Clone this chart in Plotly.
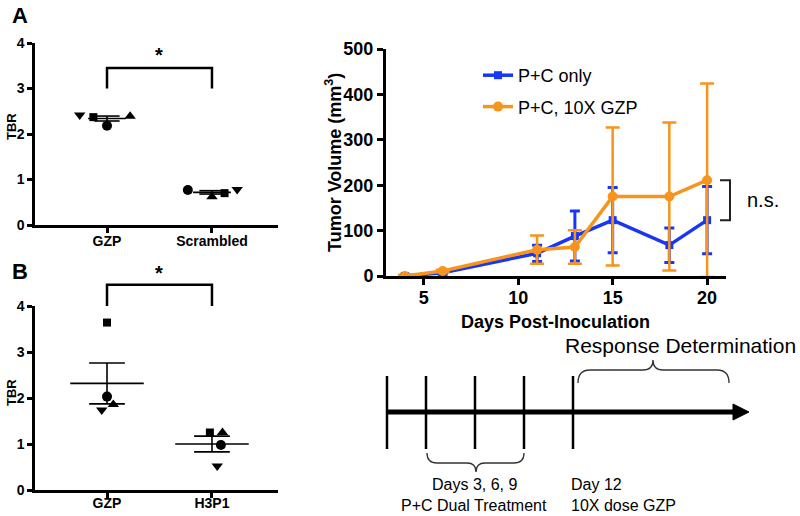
import numpy as np
import plotly.graph_objects as go

FONT = "Arial, 'Liberation Sans', Helvetica, sans-serif"
W, H = 800, 516

# ---------------- Panel A data ----------------
a_groups = ["GZP", "Scrambled"]
a_circle = [2.18, 0.77]
a_square = [2.37, 0.70]
a_tri_up = [2.39, 0.62]
a_tri_down = [2.42, 0.78]
a_dx_circle = [0.0, -0.23]
a_dx_square = [-0.13, 0.12]
a_dx_tri_up = [0.22, 0.0]
a_dx_tri_down = [-0.26, 0.24]

# ---------------- Panel B data ----------------
b_groups = ["GZP", "H3P1"]
b_circle = [2.03, 0.98]
b_square = [3.64, 1.25]
b_tri_up = [1.86, 1.25]
b_tri_down = [1.74, 0.52]
b_dx_circle = [0.0, 0.085]
b_dx_square = [0.0, -0.02]
b_dx_tri_up = [0.06, 0.10]
b_dx_tri_down = [-0.05, 0.05]

tbr_ticks = [0, 1, 2, 3, 4]

# ---------------- Panel C data ----------------
days = [4, 6, 11, 13, 15, 18, 20]
pc_only = [0, 7, 50, 88, 123, 68, 123]
pc_only_sem = [3, 3, 18, 55, 72, 38, 74]
pc_gzp = [0, 11, 58, 64, 175, 175, 211]
pc_gzp_sem = [2, 3, 31, 37, 152, 163, 213]
day_ticks = [5, 10, 15, 20]
vol_ticks = [0, 100, 200, 300, 400, 500]

BLUE = "#1736f5"
ORANGE = "#f7941d"

# ---------------- layout geometry (pixels in the final picture) ----------------
A_X, A_Y = (35, 278), (43, 225)
B_X, B_Y = (35, 278), (306, 490)
C_X, C_Y = (386, 726), (49, 276)
CAT_RANGE = [-0.686, 1.629]
TBR_RANGE = [0, 4]
DAY_RANGE = [3, 21]
VOL_RANGE = [0, 500]


def px(x):
    return x / W


def py(y):
    return 1 - y / H


def xdom(p):
    return [px(p[0]), px(p[1])]


def ydom(p):
    return [py(p[1]), py(p[0])]


def data_to_pix_x(v, rng, dom):
    return dom[0] + (v - rng[0]) / (rng[1] - rng[0]) * (dom[1] - dom[0])


def data_to_pix_y(v, rng, dom):
    return dom[1] - (v - rng[0]) / (rng[1] - rng[0]) * (dom[1] - dom[0])


fig = go.Figure()

sym_specs = [("circle", 10), ("square", 8), ("triangle-up", 10), ("triangle-down", 10)]


def add_dot_panel(vals, dxs, xa, ya, mean_hw, sem_hw):
    for (sym, size), v, dx in zip(sym_specs, vals, dxs):
        fig.add_trace(go.Scatter(
            x=[i + d for i, d in enumerate(dx)], y=v, mode="markers",
            marker=dict(symbol=sym, size=size, color="black"),
            xaxis=xa, yaxis=ya, showlegend=False, cliponaxis=False))
    xs, ys = [], []
    ngroups = len(vals[0])
    for g in range(ngroups):
        gv = [v[g] for v in vals]
        m = float(np.mean(gv))
        s = float(np.std(gv, ddof=1) / np.sqrt(len(gv)))
        xs += [g - mean_hw, g + mean_hw, None,
               g - sem_hw, g + sem_hw, None,
               g - sem_hw, g + sem_hw, None,
               g, g, None]
        ys += [m, m, None, m + s, m + s, None, m - s, m - s, None, m - s, m + s, None]
    fig.add_trace(go.Scatter(x=xs, y=ys, mode="lines",
                             line=dict(color="black", width=1.6),
                             xaxis=xa, yaxis=ya, showlegend=False))


add_dot_panel([a_circle, a_square, a_tri_up, a_tri_down],
              [a_dx_circle, a_dx_square, a_dx_tri_up, a_dx_tri_down],
              "x", "y", 0.18, 0.12)
add_dot_panel([b_circle, b_square, b_tri_up, b_tri_down],
              [b_dx_circle, b_dx_square, b_dx_tri_up, b_dx_tri_down],
              "x3", "y3", 0.35, 0.17)

# Panel C
fig.add_trace(go.Scatter(
    x=days, y=pc_only, mode="lines+markers", name="P+C only", legendgroup="g1",
    line=dict(color=BLUE, width=3.5),
    marker=dict(symbol="square", size=8, color=BLUE),
    error_y=dict(type="data", array=pc_only_sem, color=BLUE, thickness=3, width=5),
    xaxis="x5", yaxis="y5"))
fig.add_trace(go.Scatter(
    x=days, y=pc_gzp, mode="lines+markers", name="P+C, 10X GZP", legendgroup="g2",
    line=dict(color=ORANGE, width=3.5),
    marker=dict(symbol="circle", size=10, color=ORANGE),
    error_y=dict(type="data", array=pc_gzp_sem, color=ORANGE, thickness=2.5, width=7),
    xaxis="x5", yaxis="y5"))

axis_common = dict(showline=True, linecolor="black", linewidth=2.5, ticks="outside",
                   ticklen=5, tickwidth=2.5, tickcolor="black", showgrid=False,
                   zeroline=False, mirror=False, automargin=False)
axis_big = {**axis_common, "linewidth": 3, "tickwidth": 3, "ticklen": 6}
tickfont_small = dict(family=FONT, size=14, color="black", weight="bold")
tickfont_big = dict(family=FONT, size=18, color="black", weight="bold")

fig.update_layout(
    xaxis=dict(domain=xdom(A_X), range=CAT_RANGE, tickvals=[0, 1], ticktext=a_groups,
               anchor="y", tickfont=tickfont_small, ticklabelstandoff=-4, **axis_common),
    yaxis=dict(domain=ydom(A_Y), range=TBR_RANGE, tickvals=tbr_ticks, anchor="x",
               tickfont=tickfont_small, **axis_common),
    xaxis3=dict(domain=xdom(B_X), range=CAT_RANGE, tickvals=[0, 1], ticktext=b_groups,
                anchor="y3", tickfont=tickfont_small, ticklabelstandoff=-7, **axis_common),
    yaxis3=dict(domain=ydom(B_Y), range=TBR_RANGE, tickvals=tbr_ticks, anchor="x3",
                tickfont=tickfont_small, **axis_common),
    xaxis5=dict(domain=xdom(C_X), range=DAY_RANGE, tickvals=day_ticks, anchor="y5",
                tickfont=tickfont_big, ticklabelstandoff=-3, **axis_big),
    yaxis5=dict(domain=ydom(C_Y), range=VOL_RANGE, tickvals=vol_ticks, anchor="x5",
                tickfont=tickfont_big, **axis_big),
    width=W, height=H, margin=dict(l=0, r=0, t=0, b=0, autoexpand=False),
    paper_bgcolor="white", plot_bgcolor="white",
    font=dict(family=FONT, color="black"),
    legend=dict(x=px(478), y=py(57), xanchor="left", yanchor="top",
                font=dict(family=FONT, size=18, color="black"),
                bgcolor="rgba(0,0,0,0)", tracegroupgap=5),
)

shapes = []
annotations = []


def ann(x, y, text, size, bold=False, angle=0, xanchor="center", color="black"):
    annotations.append(dict(
        x=px(x), y=py(y), xref="paper", yref="paper", text=text, showarrow=False,
        xanchor=xanchor, yanchor="middle", textangle=angle,
        font=dict(family=FONT, size=size, color=color, weight="bold" if bold else "normal")))


def path_px(cmds, width=2.5, color="black"):
    shapes.append(dict(type="path", xref="paper", yref="paper", path=cmds,
                       line=dict(color=color, width=width)))


def P(x, y):
    return f"{px(x):.5f},{py(y):.5f}"


# significance brackets (computed from the category/TBR scales)
for (xd, yd, top_v, leg_v, star_y) in [(A_X, A_Y, 3.45, 3.0, 55), (B_X, B_Y, 4.46, 4.0, 273)]:
    x0 = data_to_pix_x(0, CAT_RANGE, xd)
    x1 = data_to_pix_x(1, CAT_RANGE, xd)
    yt = data_to_pix_y(top_v, TBR_RANGE, yd)
    yl = data_to_pix_y(leg_v, TBR_RANGE, yd)
    path_px(f"M{P(x0, yl)} L{P(x0, yt)} L{P(x1, yt)} L{P(x1, yl)}", width=2.5)
    ann((x0 + x1) / 2, star_y, "*", 20, bold=True)

# panel letters and TBR titles
ann(20, 15, "A", 22, bold=True)
ann(20, 271, "B", 22, bold=True)
ann(11, 127, "TBR", 13, bold=True, angle=-90)
ann(11, 393, "TBR", 13, bold=True, angle=-90)

# panel C titles
ann(333, 163, "Tumor Volume (mm<sup>3</sup>)", 18, bold=True, angle=-90)
ann(555, 322, "Days Post-Inoculation", 18, bold=True)

# n.s. bracket between last points
ytop = data_to_pix_y(pc_gzp[-1], VOL_RANGE, C_Y)
ybot = data_to_pix_y(pc_only[-1], VOL_RANGE, C_Y)
path_px(f"M{P(720, ytop)} L{P(730, ytop)} L{P(730, ybot)} L{P(720, ybot)}", width=2, color="#222222")
ann(763, (ytop + ybot) / 2, "n.s.", 20)

# ---------------- timeline schematic ----------------
for xv in [387, 426, 475, 524, 573]:
    path_px(f"M{P(xv, 376)} L{P(xv, 449)}", width=2.5)
path_px(f"M{P(387, 412)} L{P(736, 412)}", width=5)
shapes.append(dict(type="path", xref="paper", yref="paper",
                   path=f"M{P(733, 404)} L{P(749, 412)} L{P(733, 420)} Z",
                   fillcolor="black", line=dict(color="black", width=1)))
# top brace
path_px(f"M{P(578, 383)} Q{P(578, 370)} {P(590, 370)} L{P(643, 370)} Q{P(653, 370)} {P(653, 360)} "
        f"Q{P(653, 370)} {P(663, 370)} L{P(717, 370)} Q{P(729, 370)} {P(729, 383)}",
        width=1.3, color="#333333")
# bottom brace
path_px(f"M{P(427, 453)} Q{P(427, 463)} {P(437, 463)} L{P(467, 463)} Q{P(476, 463)} {P(476, 472)} "
        f"Q{P(476, 463)} {P(485, 463)} L{P(514, 463)} Q{P(524, 463)} {P(524, 453)}",
        width=1.3, color="#333333")

ann(680, 345, "Response Determination", 21)
ann(474, 484, "Days 3, 6, 9", 16)
ann(474, 505, "P+C Dual Treatment", 16)
ann(569, 484, "Day 12", 16, xanchor="left")
ann(569, 505, "10X dose GZP", 16, xanchor="left")

fig.update_layout(shapes=shapes, annotations=annotations)

fig.write_html("out.html", config={"displayModeBar": False},
               post_script="document.body.style.margin='0';document.body.style.overflow='hidden';")
